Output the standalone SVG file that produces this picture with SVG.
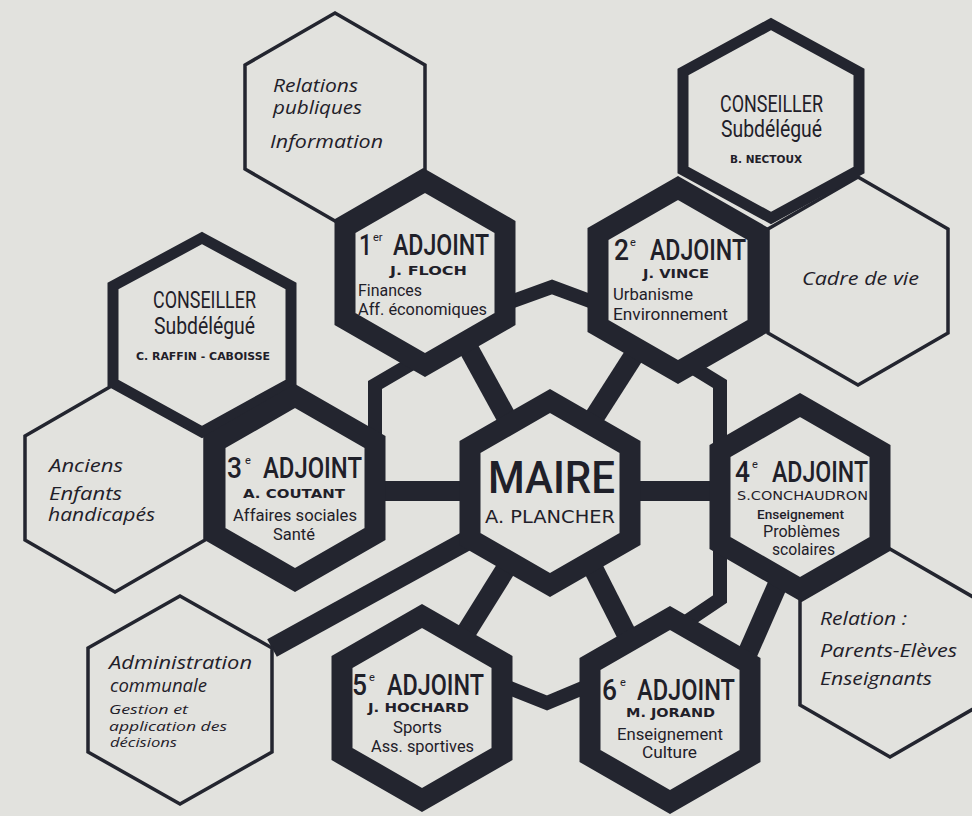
<svg xmlns="http://www.w3.org/2000/svg" width="972" height="816" viewBox="0 0 972 816">
<style>
.bg{fill:#e2e2de}
.thin{fill:#e2e2de;stroke:#23252f;stroke-width:3.5;stroke-linejoin:miter}
.cons{fill:#e2e2de;stroke:#23252f;stroke-width:11;stroke-linejoin:miter}
.thick{fill:#e2e2de;stroke:#23252f;stroke-width:21;stroke-linejoin:miter}
.bar{fill:none;stroke:#23252f;stroke-width:20;stroke-linecap:butt}
.wall{fill:none;stroke:#23252f;stroke-width:14;stroke-linejoin:miter;stroke-linecap:butt}
text{fill:#1f2029}
.c{font-family:Roboto,"Liberation Sans",sans-serif;font-weight:400}
.h{font-family:Roboto,"Liberation Sans",sans-serif;font-weight:500}
.i{font-family:"Open Sans","DejaVu Sans",sans-serif;font-style:italic}
.b{font-family:"DejaVu Sans","Liberation Sans",sans-serif;font-weight:bold}
.w{font-family:"DejaVu Sans","Liberation Sans",sans-serif}
</style>
<rect class="bg" x="0" y="0" width="972" height="816"/>
<g id="connectors">
<line class="bar" x1="370" y1="491" x2="475" y2="491"/>
<line class="bar" x1="625" y1="491" x2="725" y2="491"/>
<line class="bar" x1="465" y1="342" x2="510" y2="424"/>
<line class="bar" x1="638" y1="349" x2="590" y2="424"/>
<line class="bar" x1="510" y1="562" x2="462" y2="639"/>
<line class="bar" x1="590" y1="562" x2="630" y2="641"/>
<line class="bar" x1="272" y1="648" x2="470" y2="539"/>
<line class="bar" x1="781" y1="577" x2="745" y2="659"/>
<polyline class="wall" points="505,304 552,287 598,304"/>
<polyline class="wall" points="502,685 547,703 590,685"/>
<polyline class="wall" points="375,445 375,385 416,361"/>
<polyline class="wall" points="720,450 720,384 689,365"/>
<polyline class="wall" points="720,540 720,599 683,624"/>
</g>
<g id="relations">
<polygon class="thin" points="335,13 425,65 425,169 335,221 245,169 245,65"/>
<text class="i" x="273" y="92" font-size="18" textLength="85" lengthAdjust="spacingAndGlyphs">Relations</text>
<text class="i" x="273" y="114" font-size="18" textLength="89" lengthAdjust="spacingAndGlyphs">publiques</text>
<text class="i" x="270" y="148" font-size="18" textLength="113" lengthAdjust="spacingAndGlyphs">Information</text>
</g>
<g id="cadre">
<polygon class="thin" points="858,177 948,229 948,333 858,385 768,333 768,229"/>
<text class="i" x="802" y="285" font-size="18" textLength="117" lengthAdjust="spacingAndGlyphs">Cadre de vie</text>
</g>
<g id="anciens">
<polygon class="thin" points="115,384 205,436 205,540 115,592 25,540 25,436"/>
<text class="i" x="49" y="472" font-size="18" textLength="74" lengthAdjust="spacingAndGlyphs">Anciens</text>
<text class="i" x="49" y="500" font-size="18" textLength="73" lengthAdjust="spacingAndGlyphs">Enfants</text>
<text class="i" x="48" y="521" font-size="18" textLength="107" lengthAdjust="spacingAndGlyphs">handicapés</text>
</g>
<g id="relation-parents">
<polygon class="thin" points="890,549 980,601 980,705 890,757 800,705 800,601"/>
<text class="i" x="820" y="625" font-size="18" textLength="87" lengthAdjust="spacingAndGlyphs">Relation :</text>
<text class="i" x="820" y="657" font-size="18" textLength="137" lengthAdjust="spacingAndGlyphs">Parents-Elèves</text>
<text class="i" x="820" y="685" font-size="18" textLength="112" lengthAdjust="spacingAndGlyphs">Enseignants</text>
</g>
<g id="administration">
<polygon class="thin" points="180,596 272,648 272,752 180,804 88,752 88,648"/>
<text class="i" x="109" y="669" font-size="18" textLength="143" lengthAdjust="spacingAndGlyphs">Administration</text>
<text class="i" x="110" y="692" font-size="18" textLength="97" lengthAdjust="spacingAndGlyphs">communale</text>
<text class="i" x="109" y="714" font-size="13" textLength="79" lengthAdjust="spacingAndGlyphs">Gestion et</text>
<text class="i" x="109" y="731" font-size="13" textLength="118" lengthAdjust="spacingAndGlyphs">application des</text>
<text class="i" x="110" y="747" font-size="13" textLength="67" lengthAdjust="spacingAndGlyphs">décisions</text>
</g>
<g id="conseiller-nectoux">
<polygon class="cons" points="771,24 859,72 859,170 771,218 683,170 683,72"/>
<text class="c" x="720" y="112" font-size="23" textLength="103" lengthAdjust="spacingAndGlyphs">CONSEILLER</text>
<text class="c" x="721" y="137" font-size="23" textLength="101" lengthAdjust="spacingAndGlyphs">Subdélégué</text>
<text class="b" x="730" y="163" font-size="10" textLength="72" lengthAdjust="spacingAndGlyphs">B. NECTOUX</text>
</g>
<g id="conseiller-raffin">
<polygon class="cons" points="202,238 291,286 291,383 202,432 113,383 113,286"/>
<text class="c" x="153" y="308" font-size="23" textLength="103" lengthAdjust="spacingAndGlyphs">CONSEILLER</text>
<text class="c" x="154" y="334" font-size="23" textLength="101" lengthAdjust="spacingAndGlyphs">Subdélégué</text>
<text class="b" x="136" y="360" font-size="10" textLength="134" lengthAdjust="spacingAndGlyphs">C. RAFFIN - CABOISSE</text>
</g>
<g id="adjoint1">
<polygon class="thick" points="425,181 505,227 505,319 425,365 345,319 345,227"/>
<text class="h" x="359" y="255" font-size="30" textLength="13" lengthAdjust="spacingAndGlyphs">1</text>
<text class="c" x="373" y="241" font-size="11">er</text>
<text class="h" x="393" y="255" font-size="30" textLength="96" lengthAdjust="spacingAndGlyphs">ADJOINT</text>
<text class="b" x="390" y="275" font-size="12" textLength="77" lengthAdjust="spacingAndGlyphs">J.  FLOCH</text>
<text class="c" x="358" y="296" font-size="17" textLength="64" lengthAdjust="spacingAndGlyphs">Finances</text>
<text class="c" x="358" y="315" font-size="17" textLength="129" lengthAdjust="spacingAndGlyphs">Aff. économiques</text>
</g>
<g id="adjoint2">
<polygon class="thick" points="678,188 758,234 758,326 678,372 598,326 598,234"/>
<text class="h" x="614" y="260" font-size="30" textLength="15" lengthAdjust="spacingAndGlyphs">2</text>
<text class="c" x="630" y="246" font-size="11">e</text>
<text class="h" x="650" y="260" font-size="30" textLength="96" lengthAdjust="spacingAndGlyphs">ADJOINT</text>
<text class="b" x="643" y="278" font-size="12" textLength="66" lengthAdjust="spacingAndGlyphs">J. VINCE</text>
<text class="c" x="613" y="300" font-size="17" textLength="80" lengthAdjust="spacingAndGlyphs">Urbanisme</text>
<text class="c" x="613" y="320" font-size="17" textLength="115" lengthAdjust="spacingAndGlyphs">Environnement</text>
</g>
<g id="adjoint3">
<polygon class="thick" points="295,396 375,442 375,534 295,580 215,534 215,442"/>
<text class="h" x="227" y="478" font-size="30" textLength="15" lengthAdjust="spacingAndGlyphs">3</text>
<text class="c" x="245" y="464" font-size="11">e</text>
<text class="h" x="263" y="478" font-size="30" textLength="99" lengthAdjust="spacingAndGlyphs">ADJOINT</text>
<text class="b" x="243" y="498" font-size="12" textLength="102" lengthAdjust="spacingAndGlyphs">A.  COUTANT</text>
<text class="c" x="233" y="521" font-size="17" textLength="124" lengthAdjust="spacingAndGlyphs">Affaires sociales</text>
<text class="c" x="273" y="540" font-size="17" textLength="42" lengthAdjust="spacingAndGlyphs">Santé</text>
</g>
<g id="maire">
<polygon class="thick" points="550,401 630,447 630,539 550,585 470,539 470,447"/>
<text class="h" x="488" y="493" font-size="45" textLength="127" lengthAdjust="spacingAndGlyphs">MAIRE</text>
<text class="w" x="485" y="523" font-size="17" textLength="130" lengthAdjust="spacingAndGlyphs">A.  PLANCHER</text>
</g>
<g id="adjoint4">
<polygon class="thick" points="800,405 880,451 880,543 800,589 720,543 720,451"/>
<text class="h" x="735" y="482" font-size="30" textLength="15" lengthAdjust="spacingAndGlyphs">4</text>
<text class="c" x="752" y="468" font-size="11">e</text>
<text class="h" x="772" y="482" font-size="30" textLength="96" lengthAdjust="spacingAndGlyphs">ADJOINT</text>
<text class="w" x="737" y="500" font-size="13" textLength="131" lengthAdjust="spacingAndGlyphs">S.CONCHAUDRON</text>
<text class="h" x="757" y="519" font-size="12" textLength="87" lengthAdjust="spacingAndGlyphs">Enseignement</text>
<text class="c" x="763" y="537" font-size="16" textLength="77" lengthAdjust="spacingAndGlyphs">Problèmes</text>
<text class="c" x="772" y="555" font-size="16" textLength="63" lengthAdjust="spacingAndGlyphs">scolaires</text>
</g>
<g id="adjoint5">
<polygon class="thick" points="422,616 502,662 502,754 422,800 342,754 342,662"/>
<text class="h" x="352" y="695" font-size="30" textLength="15" lengthAdjust="spacingAndGlyphs">5</text>
<text class="c" x="369" y="681" font-size="11">e</text>
<text class="h" x="387" y="695" font-size="30" textLength="97" lengthAdjust="spacingAndGlyphs">ADJOINT</text>
<text class="b" x="368" y="712" font-size="12" textLength="101" lengthAdjust="spacingAndGlyphs">J.  HOCHARD</text>
<text class="c" x="393" y="733" font-size="17" textLength="49" lengthAdjust="spacingAndGlyphs">Sports</text>
<text class="c" x="371" y="752" font-size="17" textLength="103" lengthAdjust="spacingAndGlyphs">Ass. sportives</text>
</g>
<g id="adjoint6">
<polygon class="thick" points="670,618 750,664 750,756 670,802 590,756 590,664"/>
<text class="h" x="602" y="700" font-size="30" textLength="15" lengthAdjust="spacingAndGlyphs">6</text>
<text class="c" x="620" y="686" font-size="11">e</text>
<text class="h" x="637" y="700" font-size="30" textLength="98" lengthAdjust="spacingAndGlyphs">ADJOINT</text>
<text class="b" x="626" y="717" font-size="12" textLength="89" lengthAdjust="spacingAndGlyphs">M. JORAND</text>
<text class="c" x="617" y="740" font-size="17" textLength="106" lengthAdjust="spacingAndGlyphs">Enseignement</text>
<text class="c" x="642" y="758" font-size="17" textLength="55" lengthAdjust="spacingAndGlyphs">Culture</text>
</g>
</svg>
